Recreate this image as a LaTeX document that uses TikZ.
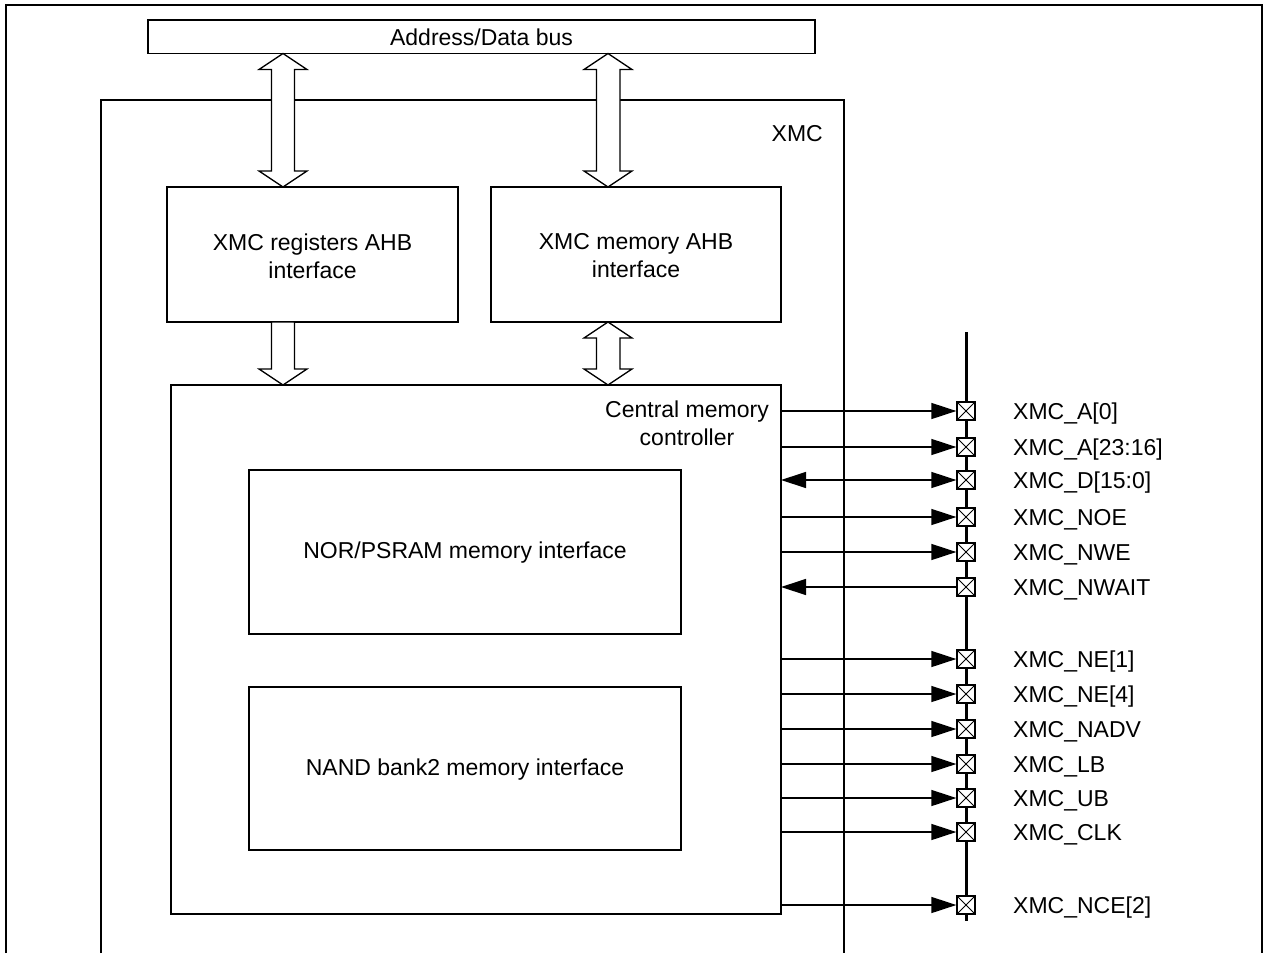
\documentclass[tikz,border=0pt]{standalone}
\usepackage{fontspec}
\setmainfont{Liberation Sans}
\usetikzlibrary{arrows.meta}
\begin{document}
\begin{tikzpicture}[x=1pt,y=-1pt,
  box/.style={draw, line width=1.3pt, inner sep=0pt},
  blk/.style={draw, fill=white, line width=1.3pt, line join=miter},
  sig/.style={line width=1.3pt, -{Triangle[length=25pt,width=16pt]}},
  sigin/.style={line width=1.3pt, {Triangle[length=25pt,width=16pt]}-},
  sigbi/.style={line width=1.3pt, {Triangle[length=25pt,width=16pt]}-{Triangle[length=25pt,width=16pt]}},
  pin/.style={draw, fill=white, line width=1.3pt, minimum size=18pt, inner sep=0pt,
    path picture={\draw[line width=1pt] (path picture bounding box.north west) -- (path picture bounding box.south east)
      (path picture bounding box.south west) -- (path picture bounding box.north east);}},
  lbl/.style={anchor=base west, inner sep=0pt},
  font=\fontsize{23}{28}\selectfont]
\useasboundingbox (0,0) rectangle (1268,953);
% outer frame
\draw[line width=2pt] (6,953) -- (6,5) -- (1262,5) -- (1262,953);
% XMC frame
\draw[line width=1.3pt] (101,953) -- (101,100) -- (844,100) -- (844,953);
\node[anchor=east, inner sep=0pt] (xmc) at (823,134) {XMC};
% bus
\draw[box] (148,20) rectangle (815,53.5);
\node (bus) at (481.5,37) {Address/Data bus};
% AHB boxes
\draw[box] (167,187) rectangle (458,322);
\node[align=center] (reg) at (312.5,256) {XMC registers AHB\\interface};
\draw[box] (491,187) rectangle (781,322);
\node[align=center] (mem) at (636,256) {XMC memory AHB\\interface};
% central box
\draw[box] (171,385) rectangle (781,914);
\node[align=center] (cmc) at (687,423) {Central memory\\controller};
\draw[box] (249,470) rectangle (681,634);
\node (nor) at (465,553) {NOR/PSRAM memory interface};
\draw[box] (249,687) rectangle (681,850);
\node (nand) at (465,770) {NAND bank2 memory interface};
% block arrows: bus <-> registers
\draw[blk] (283,53.5) -- (307,69.5) -- (294.5,69.5) -- (294.5,171) -- (307,171) -- (283,187)
  -- (259,171) -- (271.5,171) -- (271.5,69.5) -- (259,69.5) -- cycle;
% bus <-> memory
\draw[blk] (608,53.5) -- (632,69.5) -- (620,69.5) -- (620,171) -- (632,171) -- (608,187)
  -- (584,171) -- (596.5,171) -- (596.5,69.5) -- (584,69.5) -- cycle;
% registers -> central
\draw[blk] (271.5,322) -- (294.5,322) -- (294.5,369) -- (307,369) -- (283,385) -- (259,369) -- (271.5,369) -- cycle;
% memory <-> central
\draw[blk] (608,322) -- (632,338) -- (620,338) -- (620,369) -- (632,369) -- (608,385)
  -- (584,369) -- (596.5,369) -- (596.5,338) -- (584,338) -- cycle;
% I/O bus line
\draw[line width=3pt] (966,332) -- (966,921);
% pins
\foreach \n/\y/\t in {1/411/{XMC\_A[0]}, 2/447/{XMC\_A[23:16]}, 3/480/{XMC\_D[15:0]},
  4/517/{XMC\_NOE}, 5/552/{XMC\_NWE}, 6/587/{XMC\_NWAIT}, 7/659/{XMC\_NE[1]},
  8/694/{XMC\_NE[4]}, 9/729/{XMC\_NADV}, 10/764/{XMC\_LB}, 11/798/{XMC\_UB},
  12/832/{XMC\_CLK}, 13/905/{XMC\_NCE[2]}}{
  \node[pin] (p\n) at (966,\y) {};
  \node[lbl] (l\n) at (1013,\y+8.5) {\t};
}
\coordinate (cr) at (781,0);
\foreach \n in {1,2,4,5,7,8,9,10,11,12,13}{
  \draw[sig] (cr |- p\n) -- (p\n.west);
}
\draw[sigbi] (cr |- p3) -- (p3.west);
\draw[sigin] (cr |- p6) -- (p6.west);
\end{tikzpicture}
\end{document}
